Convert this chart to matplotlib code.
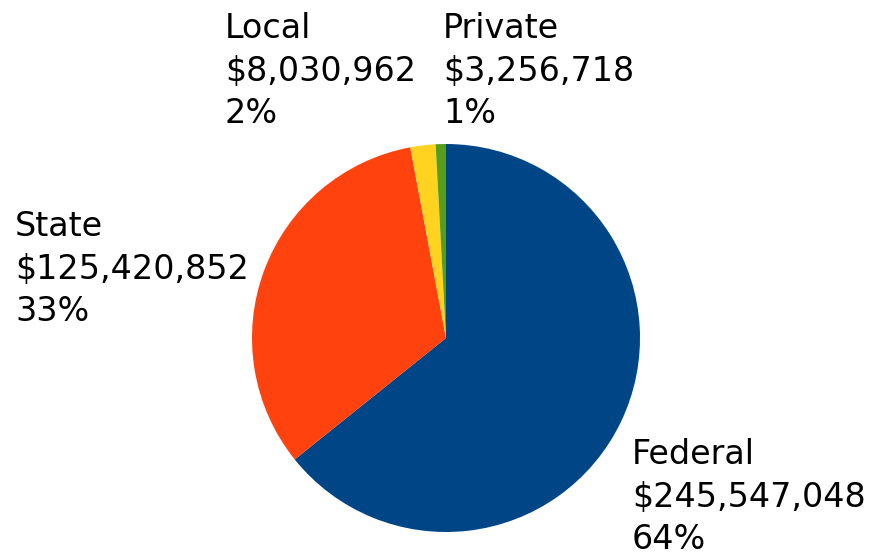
import numpy as np
from matplotlib import pyplot as plt

plt.rcParams['font.family'] = ['DejaVu Sans']

# funding by source
sources = ['Federal', 'State', 'Local', 'Private']
amounts = [245547048, 125420852, 8030962, 3256718]
colors = ['#004586', '#ff420e', '#ffd320', '#579d1c']

# label anchors (left x, first baseline y) in pixels from top-left
label_pos = [(632, 464), (15, 236), (225, 38), (443, 38)]
line_step = 42.5

W, H = 870, 554
fig = plt.figure(figsize=(W / 100, H / 100), dpi=100)

cx, cy, r = 446, 338, 194
ax = fig.add_axes([(cx - r) / W, (H - cy - r) / H, 2 * r / W, 2 * r / H])
ax.pie(amounts, colors=colors, startangle=90, counterclock=False,
       radius=1, wedgeprops=dict(linewidth=0))
ax.set_xlim(-1, 1)
ax.set_ylim(-1, 1)
ax.set_aspect('equal')
ax.axis(False)

total = sum(amounts)
for name, v, (x, y) in zip(sources, amounts, label_pos):
    lines = [name, f"${v:,}", f"{round(100 * v / total)}%"]
    for k, s in enumerate(lines):
        fig.text(x / W, 1 - (y + k * line_step) / H, s, fontsize=24,
                 ha='left', va='baseline', color='black')

fig.savefig('out.png', dpi=100)
